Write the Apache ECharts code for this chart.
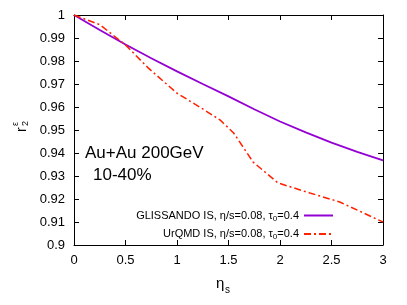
<!DOCTYPE html>
<html><head><meta charset="utf-8">
<script src="https://cdn.jsdelivr.net/npm/echarts@6/dist/echarts.min.js"></script>
<style>html,body{margin:0;padding:0;background:#fff}#c{width:407px;height:305px}</style>
</head><body><div id="c"></div>
<script>
var xTicks = [0, 0.5, 1, 1.5, 2, 2.5, 3];
var yTicks = [0.9, 0.91, 0.92, 0.93, 0.94, 0.95, 0.96, 0.97, 0.98, 0.99, 1];
var glissandoEta = [0, 0.25, 0.5, 0.75, 1, 1.25, 1.5, 1.75, 2, 2.25, 2.5, 2.75, 3];
var glissandoR   = [1.0, 0.9935, 0.9872, 0.9812, 0.9755, 0.9700, 0.9646, 0.9590, 0.9537, 0.9490, 0.9445, 0.9405, 0.9368];
var urqmdEta = [0, 0.25, 0.5, 0.72, 1.0, 1.22, 1.42, 1.55, 1.74, 1.98, 2.29, 2.58, 3.0];
var urqmdR   = [1.0, 0.9958, 0.987, 0.977, 0.966, 0.960, 0.9543, 0.9487, 0.936, 0.927, 0.9226, 0.9187, 0.910];
var names = ['GLISSANDO IS, η/s=0.08, τ0=0.4', 'UrQMD IS, η/s=0.08, τ0=0.4'];

function pairs(xs, ys){ return xs.map(function(x,i){return [x, ys[i]];}); }
var F = 'Liberation Sans, Arial, sans-serif';
var chart = echarts.init(document.getElementById('c'));
var axisCommon = {
  type: 'value', axisLine: {show: true, onZero: false, lineStyle: {color: '#000', width: 1}},
  axisTick: {show: true, inside: true, length: 5, lineStyle: {color: '#000'}},
  splitLine: {show: false}
};
chart.setOption({
  animation: false,
  grid: {left: 74, right: 24, top: 15, bottom: 60},
  xAxis: [
    Object.assign({}, axisCommon, {min: 0, max: 3, interval: 0.5, position: 'bottom',
      axisLabel: {color: '#000', fontSize: 13, fontFamily: F, margin: 9, formatter: function(v){return String(v);}}}),
    Object.assign({}, axisCommon, {min: 0, max: 3, interval: 0.5, position: 'top', axisLabel: {show: false}})
  ],
  yAxis: [
    Object.assign({}, axisCommon, {min: 0.9, max: 1, interval: 0.01, position: 'left',
      axisLabel: {color: '#000', fontSize: 13, fontFamily: F, margin: 9, formatter: function(v){return String(+v.toFixed(2));}}}),
    Object.assign({}, axisCommon, {min: 0.9, max: 1, interval: 0.01, position: 'right', axisLabel: {show: false}})
  ],
  legend: {
    orient: 'vertical', right: 73, top: 210, align: 'right', padding: 0,
    itemWidth: 29, itemHeight: 10, itemGap: 6,
    itemStyle: {opacity: 0},
    data: names,
    formatter: function(n){ var p = n.split('τ0'); return '{a|' + p[0] + 'τ}{s|0}{a|' + p[1] + '}'; },
    textStyle: {rich: {
      a: {fontSize: 11, fontFamily: F, color: '#000', verticalAlign: 'middle'},
      s: {fontSize: 8, fontFamily: F, color: '#000', padding: [6, 0, 0, 0]}
    }}
  },
  series: [
    {name: names[0], type: 'line', symbol: 'none', data: pairs(glissandoEta, glissandoR),
     lineStyle: {color: '#9400d3', width: 1.8}, itemStyle: {color: '#9400d3'}},
    {name: names[1], type: 'line', symbol: 'none', data: pairs(urqmdEta, urqmdR),
     lineStyle: {color: '#ff2000', width: 1.5, type: [7, 3, 2, 3]}, itemStyle: {color: '#ff2000'}}
  ],
  graphic: [
    {type: 'text', left: 85, top: 145, style: {text: 'Au+Au 200GeV', fontSize: 17, fontFamily: F, fill: '#000'}},
    {type: 'text', left: 93, top: 167, style: {text: '10-40%', fontSize: 17, fontFamily: F, fill: '#000'}},
    {type: 'group', x: 22, y: 132, rotation: Math.PI/2, children: [
      {type: 'text', x: 0, y: 0, style: {text: 'r', fontSize: 14, fontFamily: F, fill: '#000', verticalAlign: 'middle'}},
      {type: 'text', x: 6, y: -6, style: {text: 'ε', fontSize: 9, fontFamily: F, fill: '#000', verticalAlign: 'middle'}},
      {type: 'text', x: 6, y: 4, style: {text: '2', fontSize: 9, fontFamily: F, fill: '#000', verticalAlign: 'middle'}}
    ]},
    {type: 'text', x: 216, y: 276, style: {text: 'η', fontSize: 15, fontFamily: F, fill: '#000'}},
    {type: 'text', x: 225, y: 285, style: {text: 's', fontSize: 10, fontFamily: F, fill: '#000'}}
  ]
});
</script></body></html>
